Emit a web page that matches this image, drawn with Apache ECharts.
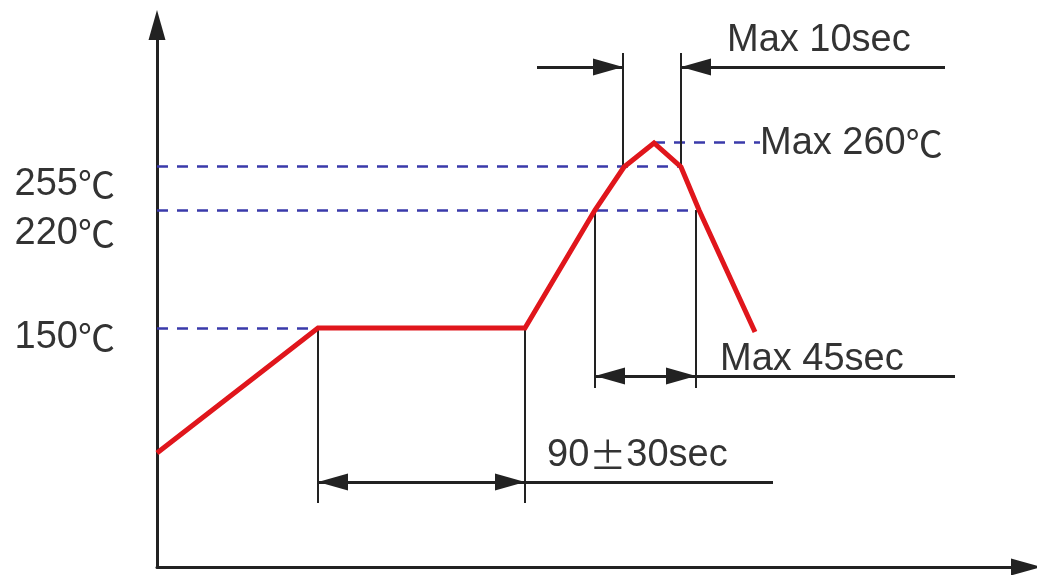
<!DOCTYPE html>
<html><head><meta charset="utf-8">
<script src="https://cdn.jsdelivr.net/npm/echarts@6/dist/echarts.min.js"></script>
<style>html,body{margin:0;padding:0;background:#fff}#c{width:1037px;height:575px}</style>
</head><body><div id="c"></div>
<script>
// Schematic reflow profile: time axis in schematic units 0..869, temperature level axis 0..542
const X_MAX = 869, Y_MAX = 542;

// Red temperature profile
const profileTime  = [0, 161, 368, 438, 467, 497, 524, 542, 598];
const profileLevel = [114, 239, 239, 357, 400, 424, 400, 357, 235];

// Reference temperature levels (dashed guides)
const levelNames  = ['150℃', '220℃', '255℃', 'Max 260℃'];
const levelValues = [239, 357, 401, 425];
const levelFrom   = [0, 0, 0, 497];
const levelTo     = [161, 539, 524, 603];

// Dimension markers (time spans)
const dimNames      = ['90±30sec', 'Max 45sec', 'Max 10sec'];
const dimStart      = [161, 438, 466];
const dimEnd        = [368, 539, 524];
const dimLineLevel  = [85, 191, 500];
const dimWitnessTop = [239, 357, 401];
const dimWitnessEnd = [64, 179, 514];
const dimLineStart  = [161, 438, 380];
const dimLineStop   = [616, 798, 788];
const dimInward     = [false, false, true];

// Label anchors
const leftLabelNames = ['150℃', '220℃', '255℃'];
const leftLabelX = -42;
const leftLabelY = [231, 335, 384];
const peakLabelPos = [603, 425];
const dimLabelPos = [[390, 113], [563, 209.5], [570, 528.5]];

const INK = '#222';
const TXT = '#333';
const ARW = [17, 30];

const chart = echarts.init(document.getElementById('c'), null, {renderer: 'canvas'});

// dashed guide lines
const guideData = levelValues.map((v, i) => [{coord: [levelFrom[i], v]}, {coord: [levelTo[i], v]}]);

// dimension lines
const dimData = [];
function seg(x1, y1, x2, y2, w, arrowFrom, arrowTo) {
  const a = {coord: [x1, y1], symbol: arrowFrom ? 'triangle' : 'none', lineStyle: {width: w, color: INK, type: 'solid'}};
  const b = {coord: [x2, y2], symbol: arrowTo ? 'triangle' : 'none', lineStyle: {width: w, color: INK, type: 'solid'}};
  if (arrowFrom) { a.symbolSize = ARW; a.symbolOffset = [0, ARW[1] / 2]; }
  if (arrowTo) { b.symbolSize = ARW; b.symbolOffset = [0, ARW[1] / 2]; }
  dimData.push([a, b]);
}
dimNames.forEach((n, i) => {
  // witness lines
  seg(dimStart[i], dimWitnessTop[i], dimStart[i], dimWitnessEnd[i], 2, false, false);
  seg(dimEnd[i], dimWitnessTop[i], dimEnd[i], dimWitnessEnd[i], 2, false, false);
  const y = dimLineLevel[i];
  if (dimInward[i]) {
    seg(dimLineStart[i], y, dimStart[i], y, 3, false, true);
    seg(dimLineStop[i], y, dimEnd[i], y, 3, false, true);
  } else {
    seg(dimEnd[i], y, dimStart[i], y, 3, false, true);
    seg(dimStart[i], y, dimEnd[i], y, 3, false, true);
    seg(dimEnd[i], y, dimLineStop[i], y, 3, false, false);
  }
});

const axisCommon = {
  type: 'value',
  axisLabel: {show: false},
  axisTick: {show: false},
  splitLine: {show: false},
  axisLine: {show: true, symbol: ['none', 'triangle'], symbolSize: ARW, lineStyle: {color: INK, width: 3}}
};

chart.setOption({
  animation: false,
  backgroundColor: '#fff',
  grid: {left: 157, right: 11, top: 25, bottom: 8, containLabel: false},
  xAxis: Object.assign({}, axisCommon, {min: 0, max: X_MAX}),
  yAxis: Object.assign({}, axisCommon, {min: 0, max: Y_MAX}),
  series: [
    {
      name: 'guides', type: 'line', data: [], z: 1, silent: true,
      markLine: {
        silent: true, symbol: ['none', 'none'], label: {show: false},
        lineStyle: {color: '#3a3aaa', width: 2.5, type: [11, 9]},
        emphasis: {disabled: true},
        data: guideData
      }
    },
    {
      name: 'dims', type: 'line', data: [], z: 2, silent: true,
      markLine: {
        silent: true, symbol: ['none', 'none'], label: {show: false},
        lineStyle: {color: INK, width: 2, type: 'solid'},
        itemStyle: {color: INK},
        emphasis: {disabled: true},
        data: dimData
      }
    },
    {
      name: 'profile', type: 'line', z: 5, silent: true,
      symbol: 'none',
      lineStyle: {color: '#e0161c', width: 5, join: 'miter'},
      data: profileTime.map((t, i) => [t, profileLevel[i]])
    }
  ]
});

// text annotations
const FONT = "'Liberation Sans', Arial, sans-serif";
function richText(s) { return s.replace(/([℃±])/g, '{u|$1}'); }
function txt(name, pos, align) {
  const p = chart.convertToPixel({gridIndex: 0}, pos);
  return {
    type: 'text', x: p[0], y: p[1] + 2, z: 10, silent: true,
    style: {
      text: richText(name), fill: TXT, fontSize: 38, fontFamily: FONT,
      align: align, verticalAlign: 'middle',
      rich: {u: {fontFamily: "'Noto Sans CJK KR'", fontSize: 37, fill: TXT}}
    }
  };
}
const graphics = [];
leftLabelNames.forEach((n, i) => graphics.push(txt(n, [leftLabelX, leftLabelY[i]], 'right')));
graphics.push(txt(levelNames[3], peakLabelPos, 'left'));
dimNames.forEach((n, i) => graphics.push(txt(n, dimLabelPos[i], 'left')));
chart.setOption({graphic: graphics});
</script></body></html>
